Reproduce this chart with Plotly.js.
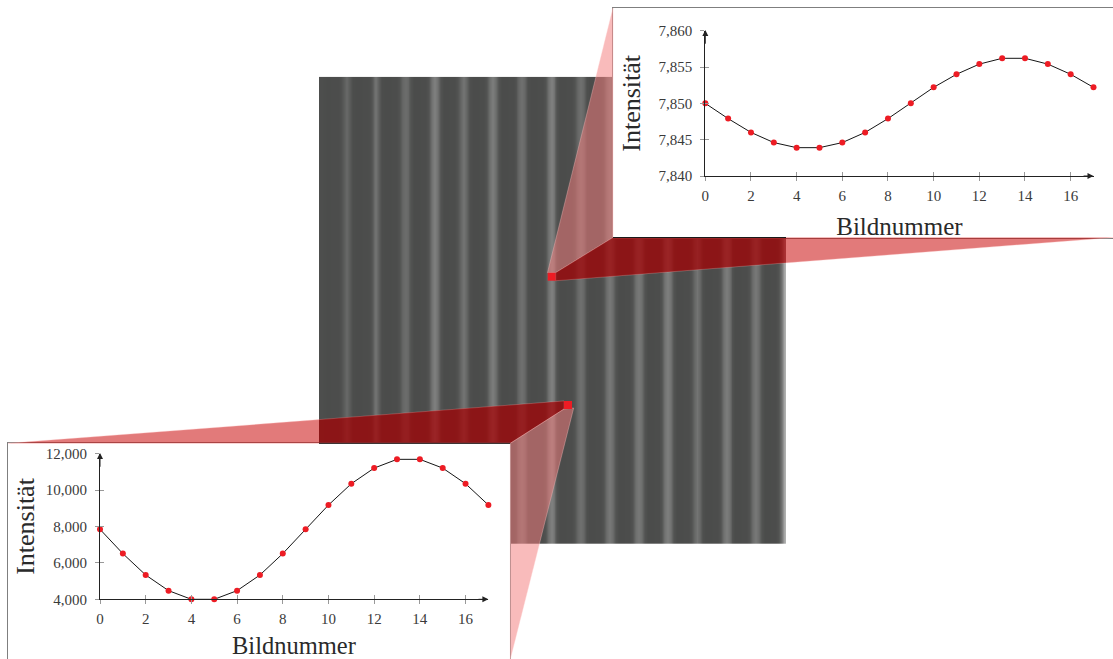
<!DOCTYPE html>
<html>
<head>
<meta charset="utf-8">
<script src="https://cdn.plot.ly/plotly-3.0.1.min.js"></script>
<style>html,body{margin:0;padding:0;background:#fff}#chart{width:1113px;height:659px}</style>
</head>
<body>
<div id="chart"></div>
<script>
var frameNumbers = [0,1,2,3,4,5,6,7,8,9,10,11,12,13,14,15,16,17];
var intensityUpper = [7850,7847.9,7846,7844.6,7843.9,7843.9,7844.6,7846,7847.9,7850,7852.2,7854,7855.4,7856.2,7856.2,7855.4,7854,7852.2];
var intensityLower = [7845,6510,5335,4475,4000,4000,4475,5335,6510,7845,9180,10350,11210,11690,11690,11210,10350,9180];
var frameTicks = [0,2,4,6,8,10,12,14,16];
var upperTicks = [7840,7845,7850,7855,7860];
var lowerTicks = [4000,6000,8000,10000,12000];
var stripeColumns = [
 77,76,75,75,76,76,76,78,90,104,90,76,75,75,75,76,76,78,94,116,
 94,76,75,75,75,76,76,82,102,108,102,82,75,75,75,76,76,82,112,128,
 112,82,75,75,75,76,76,82,100,116,100,78,75,75,75,76,76,82,110,124,
 110,82,75,75,75,76,76,82,102,112,102,78,75,75,75,76,76,82,114,128,
 114,82,75,75,75,76,76,82,102,112,102,78,75,75,75,76,76,82,108,120,
 108,82,75,75,75,76,76,82,110,120,110,82,75,75,75,76,76,82,114,126,
 114,82,75,75,75,76,76,82,104,116,104,78,75,75,75,76,76,82,112,124,
 112,82,75,75,75,76,76,82,108,120,108,82,75,75,75,76,76,82,114,175];
var yAxisName = 'Intensität';
var xAxisName = 'Bildnummer';

var W = 1113, H = 659;
function dx(a,b){return [a/W,b/W];}
function dy(top,bot){return [1-bot/H,1-top/H];}
var serif = 'Liberation Serif, serif';
var tickFont = {family:serif,size:15,color:'#3a3a3a'};
var titleFont = {family:serif,size:25,color:'#2a2a2a'};
var lowTitleFont = {family:serif,size:24.5,color:'#2a2a2a'};
var yTitleFont = {family:serif,size:26,color:'#2a2a2a'};

function hidden(domain,range,extra){
  return Object.assign({domain:domain,range:range,showgrid:false,zeroline:false,showticklabels:false,ticks:'',fixedrange:true},extra||{});
}
function border(domain){
  return hidden(domain,[0,1],{showline:true,mirror:true,linecolor:'#7f7f7f',linewidth:1});
}
function plotX(domain,anchor,titleGap){
  var ax = {domain:domain,anchor:anchor,range:[0,17],tickmode:'array',tickvals:frameTicks,showgrid:false,zeroline:false,
    showline:true,linecolor:'#222',linewidth:1,ticks:'outside',ticklen:4,tickcolor:'#999',tickwidth:1,tickfont:tickFont,ticklabelstandoff:2,fixedrange:true};
  if(titleGap!==null) ax.title={text:xAxisName,font:titleFont,standoff:titleGap};
  return ax;
}
function plotY(domain,anchor,range,vals,titleGap){
  return {domain:domain,anchor:anchor,range:range,tickmode:'array',tickvals:vals,tickformat:',d',showgrid:false,zeroline:false,
    showline:true,linecolor:'#222',linewidth:1,ticks:'outside',ticklen:4,tickcolor:'#999',tickwidth:1,tickfont:tickFont,ticklabelstandoff:5,
    title:{text:yAxisName,font:yTitleFont,standoff:titleGap},fixedrange:true};
}
function tickOverlayX(over,anchor){
  return {overlaying:over,anchor:anchor,range:[0,17],tickmode:'array',tickvals:frameTicks,showgrid:false,zeroline:false,showline:false,
    ticks:'inside',ticklen:4,tickcolor:'#999',tickwidth:1,showticklabels:false,fixedrange:true};
}
function tickOverlayY(over,anchor,range,vals){
  return {overlaying:over,anchor:anchor,range:range,tickmode:'array',tickvals:vals,showgrid:false,zeroline:false,showline:false,
    ticks:'inside',ticklen:4,tickcolor:'#999',tickwidth:1,showticklabels:false,fixedrange:true};
}
function lineTrace(ys,xa,ya){
  return {type:'scatter',mode:'lines+markers',x:frameNumbers,y:ys,xaxis:xa,yaxis:ya,cliponaxis:false,
    line:{color:'#151515',width:1},marker:{color:'#ED1C24',size:6,line:{width:0}},hoverinfo:'skip',showlegend:false};
}
function empty(xa,ya){return {type:'scatter',mode:'markers',x:[null],y:[null],xaxis:xa,yaxis:ya,hoverinfo:'skip',showlegend:false};}

var traces = [
  {type:'heatmap',z:[stripeColumns,stripeColumns],xaxis:'x',yaxis:'y',zmin:0,zmax:255,zsmooth:'best',showscale:false,hoverinfo:'skip',
   colorscale:[[0,'#000200'],[1,'#ffffff']]},
  empty('x2','y2'),
  empty('x3','y3'),
  lineTrace(intensityUpper,'x4','y4'),
  lineTrace(intensityLower,'x5','y5'),
  empty('x6','y4'),empty('x4','y6'),empty('x7','y5'),empty('x5','y7')
];

var upRange=[7840,7860], lowRange=[4000,12000];
var upX=dx(705.3,1093.5), upY=dy(30.7,176), lowX=dx(100,488.4), lowY=dy(453.7,599.3);

function arrow(xa,ya,x,y,ax,ay){
  return {xref:xa,yref:ya,axref:xa,ayref:ya,x:x,y:y,ax:ax,ay:ay,text:'',showarrow:true,arrowhead:2,arrowsize:1.2,arrowwidth:1,arrowcolor:'#222',standoff:0,startstandoff:0};
}
var wedgeRed={fillcolor:'rgba(199,0,0,0.52)',line:{color:'rgba(255,190,190,0.55)',width:0.6}};
var wedgePink={fillcolor:'rgba(244,125,125,0.52)',line:{color:'rgba(255,200,200,0.6)',width:0.6}};
var wedgeDeep={fillcolor:'rgba(139,0,6,0.4)',line:{width:0}};
function poly(d,st){return {type:'path',xref:'paper',yref:'paper',layer:'above',path:d,fillcolor:st.fillcolor,line:st.line};}
function P(pts){return 'M'+pts.map(function(p){return (p[0]/W)+','+(1-p[1]/H);}).join('L')+'Z';}
function rect(a,b,c,d){return {type:'rect',xref:'paper',yref:'paper',layer:'above',x0:a/W,x1:c/W,y0:1-b/H,y1:1-d/H,fillcolor:'#ED1C24',line:{width:0}};}
function seg(a,b,c,d){return {type:'line',xref:'paper',yref:'paper',layer:'above',x0:a/W,x1:c/W,y0:1-b/H,y1:1-d/H,line:{color:'#1a1a1a',width:1}};}

var layout = {
  width:W,height:H,margin:{l:0,r:0,t:0,b:0},paper_bgcolor:'#ffffff',plot_bgcolor:'#ffffff',separators:'.,',showlegend:false,
  xaxis:hidden(dx(319,786),[-0.5,159.5]),
  yaxis:hidden(dy(76.7,544),[-0.5,1.5]),
  xaxis2:Object.assign(border(dx(613,1113)),{anchor:'y2'}),
  yaxis2:Object.assign(border(dy(8,237.5)),{anchor:'x2'}),
  xaxis3:Object.assign(border(dx(8,510.3)),{anchor:'y3'}),
  yaxis3:Object.assign(border(dy(443.3,659)),{anchor:'x3'}),
  xaxis4:plotX(upX,'y4',14),
  yaxis4:plotY(upY,'x4',upRange,upperTicks,10),
  xaxis5:plotX(lowX,'y5',null),
  yaxis5:plotY(lowY,'x5',lowRange,lowerTicks,3),
  xaxis6:tickOverlayX('x4','y4'),
  yaxis6:tickOverlayY('y4','x4',upRange,upperTicks),
  xaxis7:tickOverlayX('x5','y5'),
  yaxis7:tickOverlayY('y5','x5',lowRange,lowerTicks),
  shapes:[
    poly(P([[547.5,272.7],[613,8],[613,237.5],[555.7,272.7]]),wedgePink),
    poly(P([[555.7,272.7],[613,237.5],[1113,237.5],[555.7,280.7]]),wedgeRed),
    poly(P([[555.7,272.7],[613,237.5],[786,237.5],[786,262.85],[555.7,280.7]]),wedgeDeep),
    poly(P([[564,401],[8,443.3],[510.3,443.3],[564,409]]),wedgeRed),
    poly(P([[319,419.6],[564,401],[564,409],[510.3,443.3],[319,443.3]]),wedgeDeep),
    poly(P([[564,409],[510.3,443.3],[510.3,659],[573.7,408]]),wedgePink),
    seg(613,237.5,786,237.5),
    seg(319,443.3,510.3,443.3),
    rect(547.7,272.7,555.7,280.7),
    rect(564,401,572,409)
  ],
  annotations:[
    arrow('x4','y4',17,7840,16.5,7840),
    arrow('x4','y4',0,7860.1,0,7858),
    arrow('x5','y5',17,4000,16.5,4000),
    arrow('x5','y5',0,12040,0,11200),
    {xref:'x5',yref:'paper',x:8.5,y:0,text:xAxisName,showarrow:false,font:lowTitleFont,xanchor:'center',yanchor:'bottom',borderpad:0,yshift:-1}
  ]
};
Plotly.newPlot('chart',traces,layout,{displayModeBar:false,staticPlot:true});
</script>
</body>
</html>
